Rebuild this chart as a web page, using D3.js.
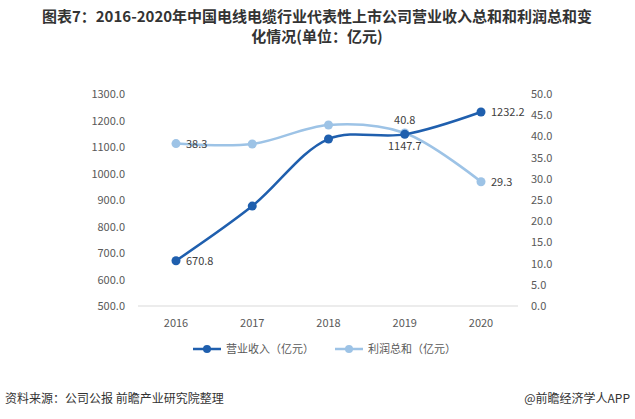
<!DOCTYPE html>
<html><head><meta charset="utf-8">
<script src="https://cdn.jsdelivr.net/npm/d3@7"></script>
<style>body{margin:0;background:#fff;font-family:"Microsoft YaHei","Noto Sans CJK SC",sans-serif;}</style>
</head><body><div id="chart"></div>
<script>
var years = ["2016", "2017", "2018", "2019", "2020"];
var revenue = [670.8, 877.0, 1130.0, 1147.7, 1232.2];
var profit = [38.3, 38.2, 42.7, 40.8, 29.3];
var leftTicks = [500, 600, 700, 800, 900, 1000, 1100, 1200, 1300];
var rightTicks = [0, 5, 10, 15, 20, 25, 30, 35, 40, 45, 50];
var revLabels = ["670.8", null, null, "1147.7", "1232.2"];
var proLabels = ["38.3", null, null, "40.8", "29.3"];

var W = 635, H = 419;
var svg = d3.select("#chart").append("svg").attr("width", W).attr("height", H);

var title = svg.append("text").attr("text-anchor", "middle").attr("font-weight", "bold")
	.attr("font-size", 15).attr("fill", "#333");
title.append("tspan").attr("x", 317).attr("y", 22).text("图表7：2016-2020年中国电线电缆行业代表性上市公司营业收入总和和利润总和变");
title.append("tspan").attr("x", 317).attr("y", 42).text("化情况(单位：亿元)");

var x = d3.scalePoint().domain(years).range([176, 481]);
var yL = d3.scaleLinear().domain([500, 1300]).range([306, 94]);
var yR = d3.scaleLinear().domain([0, 50]).range([306, 94]);

svg.append("line").attr("x1", 138).attr("x2", 518).attr("y1", 306).attr("y2", 306)
	.attr("stroke", "#d9d9d9");

svg.append("g").selectAll("text").data(leftTicks).enter().append("text")
	.attr("x", 125).attr("y", function(d){ return yL(d) + 4; }).attr("text-anchor", "end")
	.attr("font-size", 11).attr("fill", "#595959").text(function(d){ return d.toFixed(1); });
svg.append("g").selectAll("text").data(rightTicks).enter().append("text")
	.attr("x", 531).attr("y", function(d){ return yR(d) + 4; })
	.attr("font-size", 11).attr("fill", "#595959").text(function(d){ return d.toFixed(1); });
svg.append("g").selectAll("text").data(years).enter().append("text")
	.attr("x", function(d){ return x(d); }).attr("y", 327).attr("text-anchor", "middle")
	.attr("font-size", 11).attr("fill", "#595959").text(function(d){ return d; });

function series(vals, y, color, labels, offs) {
	var line = d3.line().x(function(d, i){ return x(years[i]); }).y(function(d){ return y(d); })
		.curve(d3.curveCatmullRom.alpha(0.5));
	svg.append("path").datum(vals).attr("d", line).attr("fill", "none")
		.attr("stroke", color).attr("stroke-width", 2.5);
	svg.append("g").selectAll("circle").data(vals).enter().append("circle")
		.attr("cx", function(d, i){ return x(years[i]); }).attr("cy", function(d){ return y(d); })
		.attr("r", 4.5).attr("fill", color);
	svg.append("g").selectAll("text").data(vals).enter().filter(function(d, i){ return labels[i]; })
		.append("text")
		.attr("x", function(d){ var i = vals.indexOf(d); return x(years[i]) + offs[i][0]; })
		.attr("y", function(d){ var i = vals.indexOf(d); return y(d) + offs[i][1]; })
		.attr("text-anchor", function(d){ return offs[vals.indexOf(d)][2]; })
		.attr("font-size", 11).attr("fill", "#404040")
		.text(function(d){ return labels[vals.indexOf(d)]; });
}
series(profit, yR, "#9dc3e6", proLabels, [[10,4,"start"],0,0,[0,-9,"middle"],[10,4,"start"]]);
series(revenue, yL, "#1f5fae", revLabels, [[10,4,"start"],0,0,[0,16,"middle"],[10,4,"start"]]);

var legend = [["营业收入（亿元）", "#1f5fae", 193], ["利润总和（亿元）", "#9dc3e6", 335]];
legend.forEach(function(l) {
	svg.append("line").attr("x1", l[2]).attr("x2", l[2] + 28).attr("y1", 349).attr("y2", 349)
		.attr("stroke", l[1]).attr("stroke-width", 2.5);
	svg.append("circle").attr("cx", l[2] + 14).attr("cy", 349).attr("r", 4).attr("fill", l[1]);
	svg.append("text").attr("x", l[2] + 33).attr("y", 353).attr("font-size", 11)
		.attr("fill", "#595959").text(l[0]);
});

svg.append("text").attr("x", 5).attr("y", 403).attr("font-size", 12).attr("fill", "#333")
	.text("资料来源：公司公报 前瞻产业研究院整理");
svg.append("text").attr("x", 630).attr("y", 403).attr("font-size", 12).attr("fill", "#333")
	.attr("text-anchor", "end").text("@前瞻经济学人APP");
</script></body></html>
